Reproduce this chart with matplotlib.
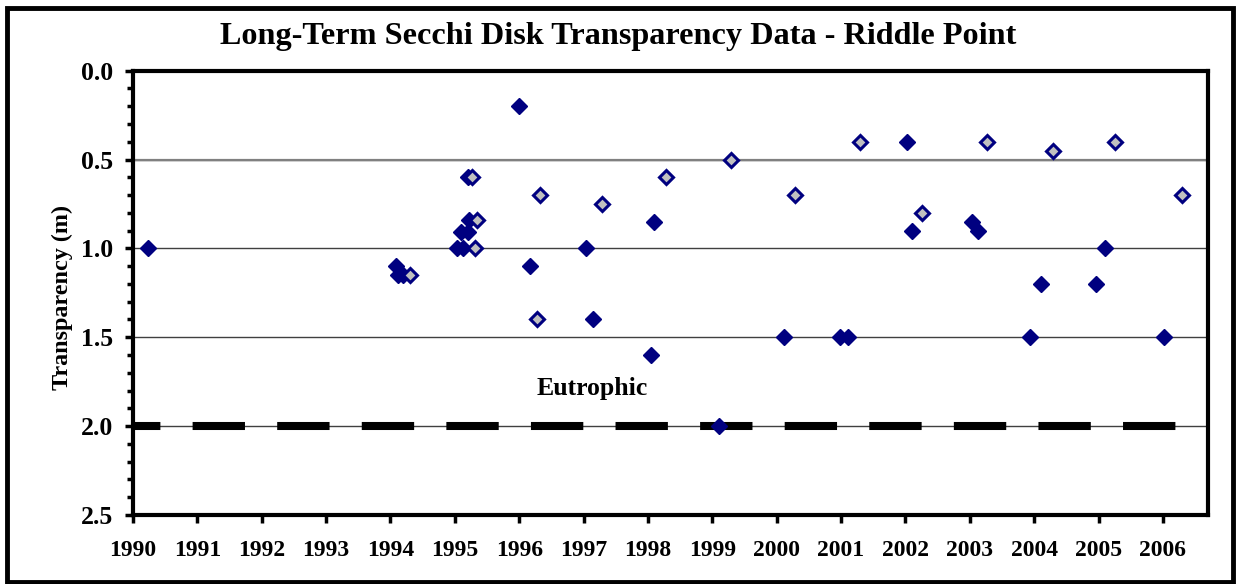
import matplotlib.pyplot as plt
from matplotlib.patches import Rectangle
from matplotlib.ticker import MultipleLocator

# filled diamonds (one sample set)
filled_year = [1990.23, 1994.08, 1994.12, 1994.20, 1995.03, 1995.12, 1995.10, 1995.20,
               1995.22, 1995.21, 1995.99, 1996.16, 1997.03, 1997.14, 1998.05, 1998.09,
               1999.10, 2000.11, 2000.99, 2001.11, 2002.03, 2002.11, 2003.04, 2003.12,
               2003.94, 2004.10, 2004.96, 2005.10, 2006.01]
filled_depth = [1.0, 1.10, 1.15, 1.15, 1.0, 1.0, 0.91, 0.91,
                0.84, 0.60, 0.20, 1.10, 1.0, 1.40, 1.60, 0.85,
                2.0, 1.50, 1.50, 1.50, 0.40, 0.90, 0.85, 0.90,
                1.50, 1.20, 1.20, 1.0, 1.50]

# open diamonds (second sample set)
open_year = [1994.31, 1995.27, 1995.31, 1995.34, 1996.27, 1996.32, 1997.28, 1998.28,
             1999.29, 2000.28, 2001.29, 2002.25, 2003.26, 2004.29, 2005.26, 2006.29]
open_depth = [1.15, 0.60, 1.0, 0.84, 1.40, 0.70, 0.75, 0.60,
              0.50, 0.70, 0.40, 0.80, 0.40, 0.45, 0.40, 0.70]

years = list(range(1990, 2007))
eutrophic_limit = 2.0

plt.rcParams["font.family"] = "Liberation Serif"
plt.rcParams["font.weight"] = "bold"

fig = plt.figure(figsize=(12.36, 5.84), dpi=100)
ax = fig.add_axes([0.1076, 0.1182, 0.8697, 0.7608])

# gridlines
for y in [0.5, 1.0, 1.5, 2.0]:
    ax.axhline(y, color="#404040", lw=1.0, zorder=1)
ax.axhline(0.5, color="#808080", lw=1.6, zorder=1)

# eutrophic threshold
ax.plot([1990, 2006.41], [eutrophic_limit, eutrophic_limit],
        color="black", lw=5.8, linestyle=(3.1, (6.5, 4.0)),
        dash_capstyle="butt", zorder=2)
ax.text(1997.13, 1.79, "Eutrophic", ha="center", va="center", fontsize=18.5, fontweight="bold")

ax.plot(filled_year, filled_depth, "D", color="#000080", ms=8, mec="#000080", mew=1, zorder=3)
ax.plot(open_year, open_depth, "D", color="#c0c0c0", ms=7.2, mec="#000080", mew=2.2, zorder=4)

ax.set_xlim(1990, 2006.7)
ax.set_ylim(2.5, 0.0)
ax.set_xticks(years)
ax.set_xticklabels([str(y) for y in years])
ax.set_yticks([0.0, 0.5, 1.0, 1.5, 2.0, 2.5])
ax.set_yticklabels(["0.0", "0.5", "1.0", "1.5", "2.0", "2.5"])
ax.yaxis.set_minor_locator(MultipleLocator(0.1))

ax.tick_params(axis="both", which="major", direction="out", length=6, width=2.5)
ax.tick_params(axis="x", labelsize=17, pad=12)
ax.tick_params(axis="y", labelsize=18.5, pad=8)
ax.tick_params(axis="y", which="minor", direction="out", length=4, width=2.5)

for s in ax.spines.values():
    s.set_linewidth(3)

ax.set_ylabel("Transparency (m)", fontsize=17.4, fontweight="bold")
ax.yaxis.set_label_coords(-0.056, 0.49)

fig.text(0.5, 0.937, "Long-Term Secchi Disk Transparency Data - Riddle Point",
         ha="center", va="center", fontsize=23.2, fontweight="bold")

# chart border
fig.patches.append(Rectangle((7 / 1236, 1 - 582 / 584), 1226 / 1236, 574 / 584,
                             transform=fig.transFigure, fill=False, lw=3.5,
                             edgecolor="black"))

fig.savefig("out.png", dpi=100)
